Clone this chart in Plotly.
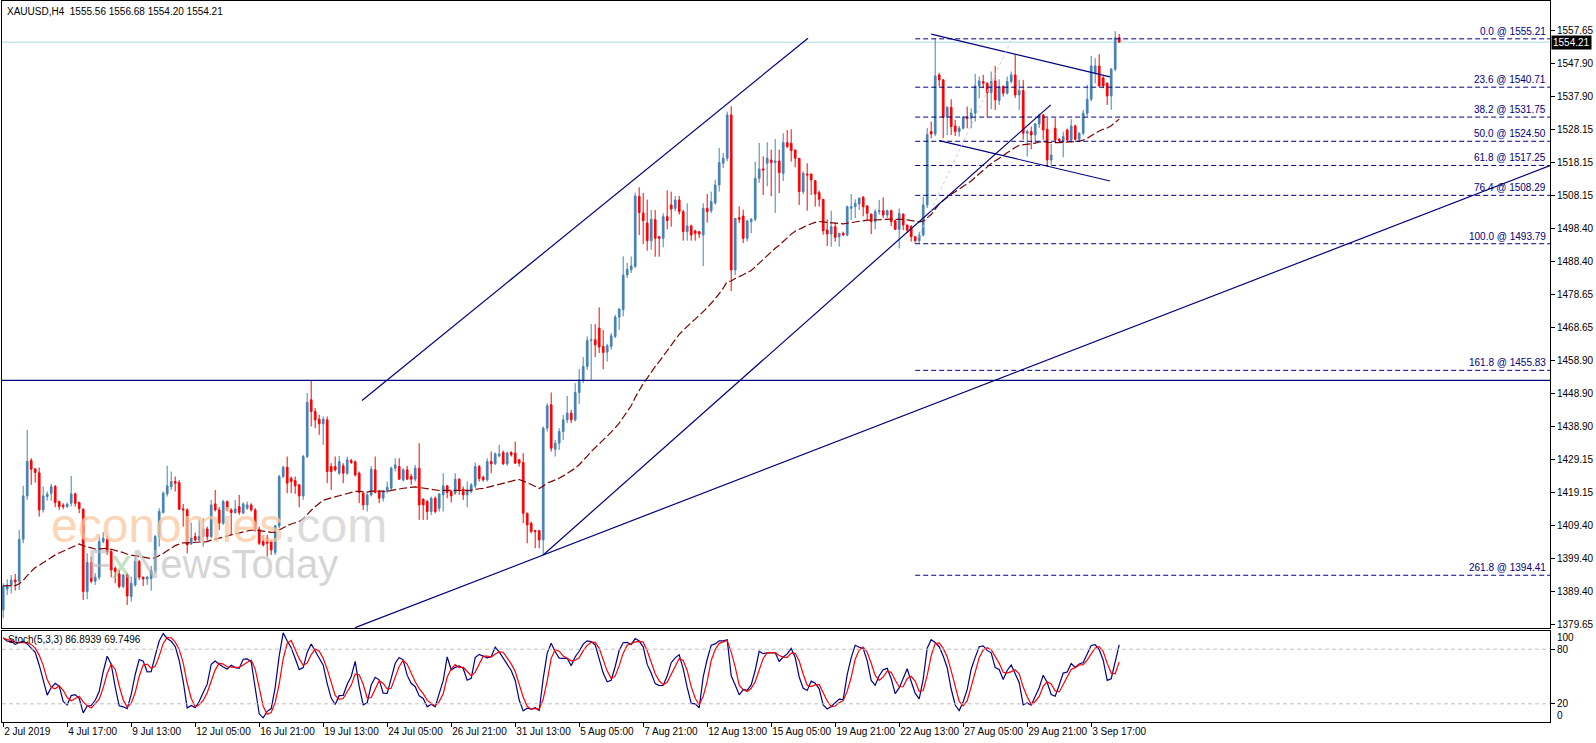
import plotly.graph_objects as go
import pandas as pd

# XAUUSD H4, 2 Jul - 4 Sep 2019 (bar index 0 = first bar on screen)
tick_bars = [0, 16, 32, 48, 64, 80, 96, 112, 128, 144, 160, 176, 192, 208, 224, 240, 256, 272]
tick_text = ['2 Jul 2019', '4 Jul 17:00', '9 Jul 13:00', '12 Jul 05:00', '16 Jul 21:00',
             '19 Jul 13:00', '24 Jul 05:00', '26 Jul 21:00', '31 Jul 13:00', '5 Aug 05:00',
             '7 Aug 21:00', '12 Aug 13:00', '15 Aug 05:00', '19 Aug 21:00', '22 Aug 13:00',
             '27 Aug 05:00', '29 Aug 21:00', '3 Sep 17:00']

open_ = [
    1384.0, 1390.2, 1391.3, 1393.0, 1392.6, 1405.2, 1418.2, 1428.8, 1426.3, 1425.1,
    1414.0, 1418.0, 1419.0, 1421.0, 1416.5, 1415.4, 1415.0, 1416.0, 1418.8, 1416.2,
    1414.2, 1389.5, 1398.2, 1392.6, 1393.8, 1404.5, 1405.3, 1401.5, 1396.5, 1394.8,
    1391.0, 1394.5, 1388.0, 1391.5, 1398.5, 1393.8, 1393.3, 1393.4, 1395.8, 1406.0,
    1413.2, 1418.8, 1421.0, 1422.5, 1422.2, 1414.3, 1414.0, 1403.8, 1406.0, 1405.0,
    1406.0, 1408.3, 1406.0, 1415.8, 1414.0, 1410.0, 1416.5, 1414.0, 1413.2, 1415.0,
    1413.0, 1414.5, 1415.5, 1414.0, 1408.2, 1404.5, 1405.5, 1404.5, 1401.2, 1409.2,
    1424.0, 1426.8, 1423.5, 1422.8, 1421.5, 1418.2, 1430.0, 1447.0, 1443.5, 1441.2,
    1439.8, 1441.0, 1427.0, 1427.0, 1425.0, 1427.2, 1425.0, 1428.8, 1428.4, 1425.0,
    1419.0, 1415.5, 1418.5, 1426.0, 1419.5, 1417.5, 1419.5, 1420.5, 1426.5, 1427.0,
    1423.0, 1426.0, 1424.0, 1423.2, 1426.5, 1417.2, 1416.5, 1413.5, 1417.5, 1414.5,
    1418.5, 1421.2, 1419.5, 1419.0, 1423.2, 1420.2, 1418.5, 1419.5, 1421.2, 1427.0,
    1423.8, 1423.0, 1428.5, 1427.8, 1430.2, 1431.2, 1427.8, 1431.2, 1431.0, 1429.0,
    1428.2, 1413.0, 1410.0, 1407.8, 1407.8, 1405.0, 1438.5, 1445.5, 1432.2, 1434.0,
    1437.5, 1441.0, 1443.0, 1441.0, 1449.2, 1453.0, 1457.0, 1464.8, 1465.0, 1468.5,
    1463.0, 1461.3, 1463.0, 1466.0, 1471.8, 1474.0, 1484.4, 1486.0, 1487.0, 1508.0,
    1503.0, 1500.0, 1494.7, 1501.0, 1495.9, 1495.4, 1501.9, 1505.4, 1504.4, 1506.9,
    1503.4, 1497.4, 1499.1, 1497.6, 1497.4, 1496.4, 1504.4, 1503.7, 1506.0, 1511.4,
    1517.9, 1519.4, 1532.4, 1485.9, 1501.6, 1502.1, 1495.4, 1500.4, 1501.1, 1513.4,
    1516.2, 1517.9, 1518.9, 1518.1, 1518.6, 1514.9, 1524.1, 1523.9, 1521.9, 1519.4,
    1509.4, 1514.7, 1514.7, 1512.7, 1509.1, 1507.1, 1497.9, 1496.7, 1498.9, 1495.9,
    1496.9, 1496.4, 1504.4, 1504.9, 1505.7, 1507.7, 1505.1, 1502.7, 1500.4, 1503.4,
    1503.7, 1502.4, 1503.7, 1500.7, 1498.1, 1502.7, 1499.4, 1498.9, 1495.9, 1494.7,
    1496.4, 1505.4, 1527.4, 1526.7, 1544.4, 1542.9, 1531.7, 1534.7, 1529.1, 1527.4,
    1528.4, 1531.7, 1531.4, 1532.9, 1541.1, 1542.4, 1541.9, 1539.1, 1542.6, 1536.7,
    1540.9, 1538.9, 1542.4, 1544.4, 1538.4, 1539.7, 1526.9, 1527.4, 1526.4, 1529.7,
    1532.4, 1528.1, 1518.9, 1528.4, 1525.1, 1524.7, 1527.9, 1524.9, 1529.1, 1525.1,
    1526.9, 1532.9, 1537.1, 1545.0, 1547.1, 1543.5, 1541.9, 1538.1, 1546.1, 1555.56,
]
high = [
    1392.0, 1393.2, 1394.5, 1394.8, 1408.0, 1421.2, 1438.0, 1429.5, 1426.5, 1426.7,
    1421.0, 1419.5, 1421.8, 1421.5, 1416.8, 1416.0, 1416.2, 1424.2, 1419.2, 1416.5,
    1414.5, 1401.0, 1400.0, 1395.0, 1406.5, 1407.3, 1406.3, 1402.0, 1397.0, 1396.0,
    1394.8, 1395.0, 1394.0, 1400.0, 1399.0, 1394.0, 1394.2, 1397.2, 1406.5, 1414.5,
    1419.5, 1427.2, 1425.5, 1424.0, 1423.0, 1415.8, 1414.5, 1410.2, 1407.2, 1411.0,
    1411.5, 1409.0, 1417.0, 1420.0, 1414.8, 1417.0, 1416.8, 1414.5, 1417.0, 1418.5,
    1416.2, 1416.5, 1416.0, 1414.5, 1409.0, 1406.5, 1406.5, 1405.0, 1409.5, 1424.5,
    1427.2, 1430.0, 1424.0, 1424.0, 1421.8, 1430.5, 1449.0, 1452.8, 1444.5, 1442.5,
    1442.0, 1442.0, 1428.0, 1430.0, 1430.2, 1428.0, 1430.0, 1429.3, 1428.8, 1425.5,
    1419.5, 1419.0, 1427.2, 1430.0, 1420.0, 1420.0, 1422.5, 1427.0, 1429.5, 1429.5,
    1426.5, 1427.2, 1424.8, 1427.5, 1434.0, 1417.5, 1417.0, 1418.0, 1418.0, 1419.0,
    1425.0, 1421.5, 1420.0, 1425.0, 1423.5, 1421.0, 1422.5, 1422.0, 1428.2, 1427.5,
    1424.2, 1429.5, 1431.5, 1431.2, 1433.5, 1431.8, 1431.5, 1431.6, 1434.5, 1429.3,
    1431.0, 1413.2, 1410.5, 1408.0, 1408.0, 1439.0, 1446.0, 1449.2, 1435.0, 1438.5,
    1442.5, 1448.2, 1444.0, 1452.0, 1456.2, 1459.8, 1466.0, 1469.7, 1469.7, 1474.7,
    1467.9, 1463.8, 1467.0, 1472.5, 1474.5, 1490.0, 1488.0, 1490.0, 1509.1, 1510.7,
    1509.0, 1507.0, 1503.9, 1503.9, 1496.0, 1502.9, 1509.8, 1509.4, 1508.1, 1508.1,
    1504.0, 1505.9, 1499.5, 1498.0, 1497.6, 1505.9, 1508.7, 1509.4, 1513.0, 1522.5,
    1521.0, 1533.4, 1535.0, 1501.5, 1505.0, 1504.0, 1501.0, 1501.5, 1518.4, 1524.0,
    1520.0, 1524.2, 1522.0, 1525.2, 1522.0, 1526.9, 1527.9, 1528.1, 1522.0, 1519.5,
    1515.5, 1517.9, 1514.8, 1512.8, 1509.7, 1507.2, 1501.1, 1503.7, 1500.1, 1497.0,
    1497.4, 1505.2, 1508.7, 1507.1, 1507.7, 1508.1, 1505.4, 1502.8, 1504.1, 1506.9,
    1507.7, 1504.0, 1504.0, 1501.0, 1504.4, 1502.8, 1499.5, 1499.4, 1496.1, 1497.4,
    1507.9, 1528.5, 1530.4, 1555.21, 1545.0, 1543.2, 1535.0, 1537.1, 1530.9, 1529.1,
    1532.1, 1534.9, 1534.4, 1544.7, 1543.9, 1544.4, 1542.2, 1545.4, 1547.1, 1543.1,
    1541.2, 1543.9, 1545.4, 1550.4, 1542.9, 1542.9, 1528.0, 1528.9, 1530.0, 1532.8,
    1532.6, 1531.4, 1523.7, 1531.4, 1525.5, 1527.4, 1528.3, 1531.1, 1529.5, 1527.2,
    1533.9, 1541.4, 1550.1, 1549.4, 1550.6, 1544.0, 1542.2, 1546.5, 1557.5, 1556.68,
]
low = [
    1381.5, 1388.5, 1389.0, 1389.8, 1390.0, 1404.0, 1417.0, 1421.5, 1422.2, 1412.0,
    1413.2, 1416.8, 1416.7, 1414.8, 1414.0, 1414.2, 1414.6, 1415.0, 1415.0, 1413.0,
    1387.0, 1387.2, 1392.0, 1391.5, 1393.0, 1404.0, 1400.5, 1393.8, 1392.0, 1390.5,
    1390.5, 1385.5, 1386.5, 1391.0, 1393.0, 1391.2, 1391.5, 1389.8, 1395.0, 1403.0,
    1412.9, 1418.0, 1420.0, 1419.5, 1414.0, 1409.0, 1401.0, 1403.5, 1404.5, 1404.5,
    1403.0, 1404.8, 1405.5, 1413.5, 1408.0, 1409.5, 1413.5, 1406.5, 1412.8, 1412.5,
    1412.8, 1414.0, 1413.5, 1407.5, 1403.5, 1403.0, 1400.0, 1400.5, 1400.5, 1408.5,
    1423.5, 1419.0, 1419.0, 1418.8, 1414.8, 1417.0, 1429.5, 1439.0, 1438.5, 1436.5,
    1433.5, 1422.0, 1420.0, 1425.5, 1424.5, 1422.0, 1424.5, 1427.8, 1424.0, 1416.0,
    1414.0, 1413.5, 1418.0, 1419.0, 1416.0, 1416.5, 1419.0, 1420.0, 1425.5, 1423.0,
    1422.5, 1423.0, 1421.5, 1422.5, 1411.0, 1411.0, 1411.0, 1412.5, 1413.0, 1413.5,
    1413.5, 1417.5, 1416.2, 1418.5, 1418.5, 1417.0, 1414.8, 1419.0, 1420.5, 1422.5,
    1422.5, 1422.5, 1425.0, 1427.5, 1429.8, 1427.5, 1427.2, 1430.0, 1427.8, 1427.0,
    1410.0, 1404.0, 1407.0, 1402.5, 1402.5, 1400.5, 1437.5, 1431.5, 1430.0, 1432.0,
    1435.0, 1440.0, 1440.0, 1440.5, 1445.8, 1452.0, 1456.0, 1453.0, 1459.8, 1461.0,
    1456.2, 1458.5, 1462.0, 1465.5, 1468.0, 1472.0, 1483.5, 1485.0, 1486.5, 1496.4,
    1493.7, 1491.7, 1492.0, 1489.9, 1489.9, 1492.7, 1498.1, 1498.9, 1503.5, 1502.5,
    1494.7, 1494.7, 1494.7, 1494.7, 1495.5, 1487.1, 1500.1, 1503.0, 1505.5, 1509.4,
    1516.5, 1518.5, 1479.6, 1484.4, 1500.0, 1494.0, 1494.5, 1497.0, 1500.5, 1512.0,
    1508.4, 1511.0, 1508.0, 1503.0, 1509.0, 1512.6, 1522.5, 1518.4, 1516.7, 1505.4,
    1508.6, 1503.7, 1508.4, 1504.9, 1504.9, 1496.5, 1493.1, 1492.9, 1494.4, 1492.9,
    1496.1, 1496.0, 1500.9, 1501.5, 1503.9, 1502.0, 1500.9, 1496.7, 1498.1, 1502.5,
    1501.5, 1501.5, 1499.1, 1497.9, 1492.4, 1497.9, 1497.0, 1494.4, 1493.79, 1493.9,
    1496.0, 1504.5, 1525.4, 1526.0, 1540.9, 1525.4, 1526.4, 1526.4, 1526.1, 1525.9,
    1528.0, 1528.4, 1528.4, 1530.4, 1537.4, 1540.4, 1531.7, 1534.1, 1533.9, 1535.4,
    1537.9, 1538.5, 1541.8, 1537.5, 1533.9, 1525.0, 1519.9, 1522.1, 1524.0, 1528.5,
    1525.0, 1516.9, 1517.5, 1524.0, 1524.0, 1519.7, 1524.5, 1524.5, 1524.8, 1524.4,
    1526.3, 1532.0, 1536.5, 1541.9, 1540.8, 1540.4, 1535.4, 1533.9, 1545.5, 1554.20,
]
close = [
    1391.2, 1391.5, 1393.0, 1392.4, 1405.2, 1418.2, 1428.5, 1426.2, 1425.2, 1414.0,
    1418.2, 1418.7, 1421.0, 1416.2, 1415.0, 1415.0, 1415.7, 1418.8, 1416.0, 1414.4,
    1389.5, 1398.2, 1392.6, 1393.8, 1404.5, 1405.5, 1401.5, 1396.0, 1395.5, 1391.0,
    1394.5, 1388.2, 1392.0, 1398.5, 1393.8, 1393.3, 1393.8, 1395.8, 1406.0, 1413.5,
    1419.0, 1421.2, 1422.5, 1422.0, 1414.2, 1414.0, 1403.5, 1405.5, 1405.0, 1406.0,
    1408.3, 1406.0, 1415.5, 1414.0, 1410.0, 1416.5, 1414.0, 1413.2, 1414.3, 1413.2,
    1415.8, 1415.5, 1414.0, 1408.2, 1404.0, 1403.5, 1404.0, 1402.0, 1409.2, 1424.0,
    1426.8, 1422.0, 1422.5, 1421.2, 1418.2, 1430.0, 1446.2, 1443.5, 1441.0, 1439.8,
    1441.2, 1425.5, 1425.5, 1426.0, 1428.5, 1425.0, 1429.0, 1428.2, 1424.5, 1419.2,
    1415.5, 1418.5, 1426.2, 1419.2, 1417.5, 1419.5, 1420.8, 1426.5, 1427.5, 1423.2,
    1426.0, 1423.2, 1423.2, 1426.5, 1415.5, 1415.5, 1413.5, 1417.5, 1413.5, 1418.8,
    1421.2, 1419.2, 1418.2, 1423.2, 1420.2, 1418.5, 1419.8, 1421.5, 1427.0, 1423.4,
    1423.0, 1428.5, 1427.8, 1430.8, 1430.8, 1427.8, 1431.0, 1430.5, 1428.0, 1428.0,
    1413.0, 1409.5, 1407.5, 1407.5, 1405.0, 1438.5, 1445.2, 1432.5, 1434.0, 1437.5,
    1441.0, 1443.0, 1441.0, 1449.2, 1453.0, 1457.0, 1464.8, 1465.0, 1463.5, 1462.8,
    1461.2, 1463.2, 1466.2, 1471.8, 1474.2, 1484.4, 1486.1, 1487.1, 1508.1, 1503.1,
    1500.7, 1494.7, 1501.1, 1495.4, 1495.4, 1501.9, 1500.7, 1504.2, 1506.9, 1503.4,
    1497.4, 1499.1, 1496.4, 1496.9, 1496.7, 1504.4, 1503.4, 1506.4, 1511.4, 1518.1,
    1519.4, 1532.4, 1485.9, 1501.4, 1501.1, 1495.4, 1500.6, 1501.1, 1513.4, 1516.2,
    1515.9, 1519.4, 1518.1, 1518.6, 1515.1, 1524.1, 1522.9, 1521.7, 1519.4, 1509.4,
    1514.9, 1514.4, 1512.9, 1508.7, 1507.1, 1497.7, 1496.7, 1498.9, 1495.7, 1496.9,
    1496.4, 1504.9, 1504.9, 1505.9, 1507.4, 1504.9, 1502.9, 1500.4, 1503.4, 1503.7,
    1502.4, 1503.7, 1500.4, 1498.1, 1502.9, 1499.4, 1497.9, 1495.9, 1494.7, 1496.4,
    1505.4, 1526.5, 1526.7, 1544.1, 1542.9, 1531.7, 1534.7, 1528.9, 1527.4, 1528.4,
    1531.7, 1531.4, 1532.9, 1541.1, 1542.6, 1541.9, 1539.1, 1542.4, 1536.9, 1540.9,
    1538.9, 1542.4, 1544.4, 1538.4, 1539.7, 1526.9, 1527.4, 1526.4, 1529.7, 1532.4,
    1527.9, 1518.9, 1520.4, 1524.9, 1524.7, 1525.9, 1524.9, 1529.1, 1525.1, 1526.9,
    1532.9, 1537.1, 1547.1, 1547.1, 1541.1, 1541.1, 1538.1, 1546.1, 1555.56, 1554.21,
]
assert len(open_) == len(high) == len(low) == len(close) == 280

price_ticks = [1557.65, 1547.90, 1537.90, 1528.15, 1518.15, 1508.15, 1498.40, 1488.40,
               1478.65, 1468.65, 1458.90, 1448.90, 1438.90, 1429.15, 1419.15, 1409.40,
               1399.40, 1389.40, 1379.65]

fib_levels = [0.0, 23.6, 38.2, 50.0, 61.8, 76.4, 100.0, 161.8, 261.8]
fib_prices = [1555.21, 1540.71, 1531.75, 1524.50, 1517.25, 1508.29, 1493.79, 1455.83, 1394.41]
fib_start_bar = 228

resistance = 1452.8
bid = 1554.21

# hand-drawn trend lines, (bar, price) end points
channel_top_x, channel_top_y = [89.7, 201.2], [1446.8, 1555.4]
support_x, support_y = [135, 261.9], [1400.5, 1535.4]
long_trend_x, long_trend_y = [88.0, 386.7], [1378.7, 1517.2]
flag_top_x, flag_top_y = [232, 276.7], [1556.6, 1543.8]
flag_bottom_x, flag_bottom_y = [234, 276.7], [1524.7, 1512.6]
fib_diag_x, fib_diag_y = [228, 252.2], [1493.79, 1555.21]

bars = list(range(len(close)))
x_range = [-0.3, 386.7]

# indicators
df = pd.DataFrame({'h': high, 'l': low, 'c': close})
ma = df['c'].ewm(span=50, adjust=False).mean()
ll = df['l'].rolling(5, min_periods=1).min()
hh = df['h'].rolling(5, min_periods=1).max()
stoch_k = 100 * (df['c'] - ll).rolling(3, min_periods=1).sum() / (hh - ll).rolling(3, min_periods=1).sum()
stoch_d = stoch_k.rolling(3, min_periods=1).mean()

NAVY = '#000080'
FONT = 'Liberation Sans, Arial, sans-serif'

fig = go.Figure()

fig.add_trace(go.Candlestick(
    x=bars, open=open_, high=high, low=low, close=close,
    increasing=dict(line=dict(color='#4682B4', width=1), fillcolor='#4682B4'),
    decreasing=dict(line=dict(color='#FF0000', width=1), fillcolor='#FF0000'),
    whiskerwidth=0, hoverinfo='skip', showlegend=False))

fig.add_trace(go.Scatter(x=bars, y=ma, mode='lines', hoverinfo='skip', showlegend=False,
                         line=dict(color='#800000', width=1.2, dash='8px,3px')))

for lx, ly in [(channel_top_x, channel_top_y), (support_x, support_y),
               (long_trend_x, long_trend_y), (flag_top_x, flag_top_y),
               (flag_bottom_x, flag_bottom_y)]:
    fig.add_trace(go.Scatter(x=lx, y=ly, mode='lines', hoverinfo='skip', showlegend=False,
                             line=dict(color=NAVY, width=1.2)))
fig.add_trace(go.Scatter(x=fib_diag_x, y=fib_diag_y, mode='lines', hoverinfo='skip',
                         showlegend=False, line=dict(color='#C8C8F0', width=1, dash='dot')))

fig.add_trace(go.Scatter(x=bars, y=stoch_k, mode='lines', xaxis='x2', yaxis='y2',
                         hoverinfo='skip', showlegend=False,
                         line=dict(color='#00008B', width=1.2)))
fig.add_trace(go.Scatter(x=bars, y=stoch_d, mode='lines', xaxis='x2', yaxis='y2',
                         hoverinfo='skip', showlegend=False,
                         line=dict(color='#FF0000', width=1.2)))

shapes = []
shapes.append(dict(type='line', xref='paper', yref='y', x0=0, x1=1, y0=bid, y1=bid,
                   line=dict(color='#A8DCE8', width=1), layer='below'))
shapes.append(dict(type='line', xref='paper', yref='y', x0=0, x1=1, y0=resistance, y1=resistance,
                   line=dict(color=NAVY, width=1.2)))
for p in fib_prices:
    shapes.append(dict(type='line', xref='x', yref='y', x0=fib_start_bar, x1=x_range[1],
                       y0=p, y1=p, line=dict(color=NAVY, width=1, dash='5px,3px')))
for lvl in [20, 80]:
    shapes.append(dict(type='line', xref='paper', yref='y2', x0=0, x1=1, y0=lvl, y1=lvl,
                       line=dict(color='#C0C0C0', width=1, dash='4px,3px')))

annotations = []
for lvl, p in zip(fib_levels, fib_prices):
    annotations.append(dict(xref='paper', yref='y', x=1, y=p, xanchor='right', yanchor='bottom',
                            xshift=-2, showarrow=False, text=f'{lvl:.1f} @ {p:.2f}',
                            font=dict(family=FONT, size=10, color=NAVY)))
annotations.append(dict(xref='paper', yref='y', x=1, y=bid, xanchor='left', yanchor='middle',
                        xshift=1, showarrow=False, text=f'{bid:.2f}', bgcolor='black',
                        borderpad=1, font=dict(family=FONT, size=10, color='white')))
annotations.append(dict(xref='paper', yref='paper', x=0, y=1, xanchor='left', yanchor='top',
                        xshift=3, yshift=-3, showarrow=False,
                        text='XAUUSD,H4\u00a0\u00a01555.56 1556.68 1554.20 1554.21',
                        font=dict(family=FONT, size=10, color='black')))
annotations.append(dict(xref='paper', yref='paper', x=0, y=0.1151, xanchor='left',
                        yanchor='middle', xshift=4, showarrow=False,
                        text='Stoch(5,3,3) 86.8939 69.7496',
                        font=dict(family=FONT, size=10, color='black')))
for txt, yv in [('100', 93), ('0', 7)]:
    annotations.append(dict(xref='paper', yref='y2', x=1, y=yv, xanchor='left', yanchor='middle',
                            xshift=5, showarrow=False, text=txt,
                            font=dict(family=FONT, size=10, color='black')))
# watermarks
annotations.append(dict(xref='paper', yref='paper', x=0.0304, y=0.273, xanchor='left',
                        yanchor='middle', showarrow=False,
                        text='<span style="color:rgba(251,200,160,0.75)">economies</span>'
                             '<span style="color:rgba(205,205,205,0.7)">.com</span>',
                        font=dict(family=FONT, size=48)))
annotations.append(dict(xref='paper', yref='paper', x=0.0536, y=0.2185, xanchor='left',
                        yanchor='middle', showarrow=False,
                        text='<span style="color:rgba(185,185,185,0.6)">F</span>'
                             '<span style="color:rgba(140,200,140,0.55)">x</span>'
                             '<span style="color:rgba(185,185,185,0.6)">NewsToday</span>',
                        font=dict(family=FONT, size=40)))

axis_common = dict(showline=True, mirror=True, linecolor='black', linewidth=1,
                   showgrid=False, zeroline=False)

fig.update_layout(
    width=1596, height=743,
    margin=dict(l=2, r=46, t=1, b=21),
    paper_bgcolor='white', plot_bgcolor='white',
    boxgap=0.4,
    shapes=shapes, annotations=annotations,
    xaxis=dict(anchor='y', range=x_range, showticklabels=False, ticks='',
               rangeslider=dict(visible=False), **axis_common),
    yaxis=dict(domain=[0.1304, 1.0], side='right', range=[1378.6, 1566.55],
               tickvals=price_ticks, ticktext=[f'{v:.2f}' for v in price_ticks],
               ticks='outside', ticklen=4, tickcolor='black',
               tickfont=dict(family=FONT, size=10, color='black'), **axis_common),
    xaxis2=dict(anchor='y2', matches='x', tickvals=tick_bars, ticktext=tick_text,
                ticks='outside', ticklen=4, tickcolor='black', ticklabelposition='outside right',
                tickangle=0,
                tickfont=dict(family=FONT, size=10, color='black'), **axis_common),
    yaxis2=dict(domain=[0, 0.1262], side='right', range=[0, 100], tickvals=[20, 80],
                ticks='outside', ticklen=4, tickcolor='black',
                tickfont=dict(family=FONT, size=10, color='black'), **axis_common),
)

fig.write_html('out.html', config={'displayModeBar': False},
               post_script="document.body.style.margin='0px';")
